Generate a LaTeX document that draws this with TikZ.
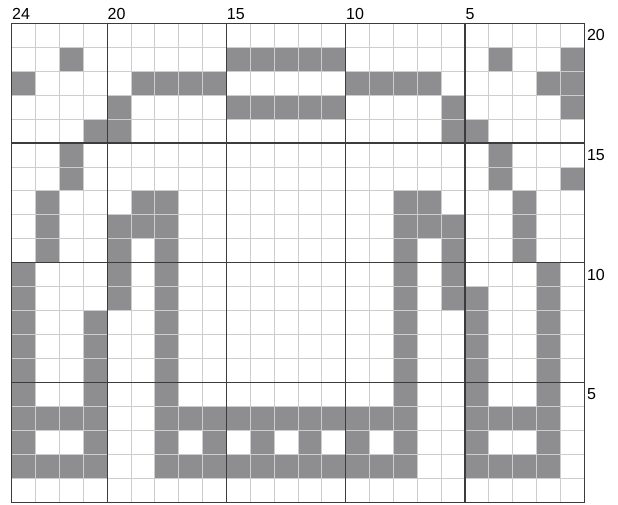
\documentclass[tikz,border=0pt]{standalone}
\usepackage{fontspec}
\setmainfont{Liberation Sans}
\definecolor{cellgray}{RGB}{142,142,145}
\definecolor{thinline}{RGB}{205,205,205}
\definecolor{thickline}{RGB}{60,60,60}
\tikzset{
  thingrid/.style={draw=thinline, line width=0.9pt},
  thickgrid/.style={draw=thickline, line width=1.1pt},
  lbl/.style={inner sep=0pt, font=\fontsize{16}{16}\selectfont, text=black},
}
\newcommand\GX{11.7}
\newcommand\GW{23.86}
\newcommand\GY{23.3}
\newcommand\GH{23.95}
\newcommand\grayrow[2]{%
  \foreach \cc in {#2} {%
    \fill[cellgray] ({\GX+(\cc-1)*\GW},{\GY+(#1-1)*\GH}) rectangle ++(\GW,\GH);
  }%
}
\begin{document}
\begin{tikzpicture}[x=1pt,y=-1pt]
\useasboundingbox (0,0) rectangle (618,505);
\fill[white] (0,0) rectangle (618,505);
% gray cells: row (from top), columns (from left)
\grayrow{2}{3,10,11,12,13,14,21,24}
\grayrow{3}{1,6,7,8,9,15,16,17,18,23,24}
\grayrow{4}{5,10,11,12,13,14,19,24}
\grayrow{5}{4,5,19,20}
\grayrow{6}{3,21}
\grayrow{7}{3,21,24}
\grayrow{8}{2,6,7,17,18,22}
\grayrow{9}{2,5,6,7,17,18,19,22}
\grayrow{10}{2,5,7,17,19,22}
\grayrow{11}{1,5,7,17,19,23}
\grayrow{12}{1,5,7,17,19,20,23}
\grayrow{13}{1,4,7,17,20,23}
\grayrow{14}{1,4,7,17,20,23}
\grayrow{15}{1,4,7,17,20,23}
\grayrow{16}{1,4,7,17,20,23}
\grayrow{17}{1,2,3,4,7,8,9,10,11,12,13,14,15,16,17,20,21,22,23}
\grayrow{18}{1,4,7,9,11,13,15,17,20,23}
\grayrow{19}{1,2,3,4,7,8,9,10,11,12,13,14,15,16,17,20,21,22,23}
% thin grid
\foreach \i in {1,...,23} {
  \draw[thingrid] ({\GX+\i*\GW},\GY) -- ++(0,{20*\GH});
}
\foreach \j in {1,...,19} {
  \draw[thingrid] (\GX,{\GY+\j*\GH}) -- ++({24*\GW},0);
}
% thick grid
\foreach \i in {4,9,14,19} {
  \draw[thickgrid] ({\GX+\i*\GW},\GY) -- ++(0,{20*\GH});
}
\foreach \j in {5,10,15} {
  \draw[thickgrid] (\GX,{\GY+\j*\GH}) -- ++({24*\GW},0);
}
\draw[thickgrid] (\GX,\GY) rectangle ({\GX+24*\GW},{\GY+20*\GH});
% column labels
\foreach \i/\t in {0/24,4/20,9/15,14/10,19/5} {
  \node[lbl, anchor=base west] (col\t) at ({\GX+\i*\GW+0.3},{\GY-3.3}) {\t};
}
% row labels
\foreach \j/\t in {0/20,5/15,10/10,15/5} {
  \node[lbl, anchor=west] (row\t) at ({\GX+24*\GW+2.5},{\GY+(\j+0.5)*\GH}) {\t};
}
\end{tikzpicture}
\end{document}
